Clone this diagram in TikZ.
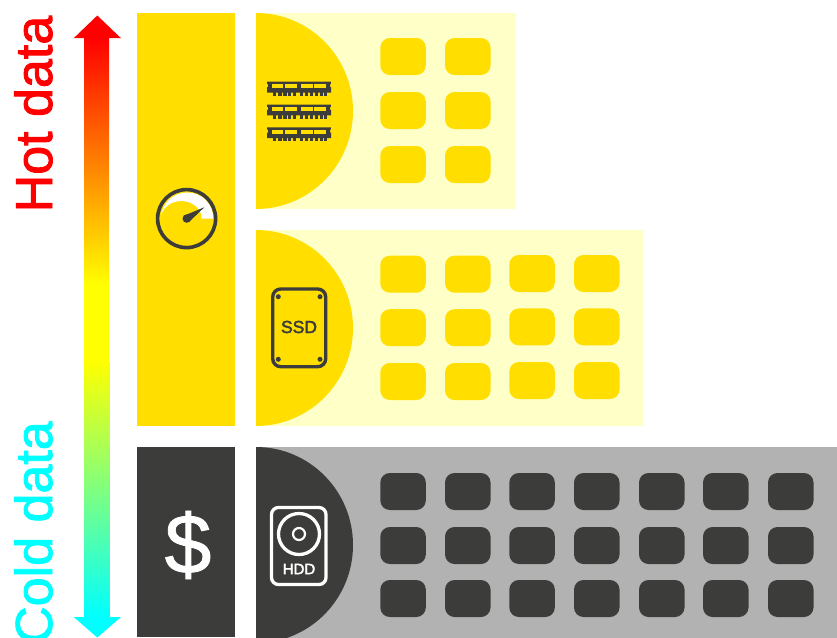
\documentclass[tikz,border=0pt]{standalone}
\usepackage{fontspec}
\setmainfont{Liberation Sans}
\newfontfamily\heavyfont{Liberation Sans}[FakeBold=2.5]
\newfontfamily\labelfont{Liberation Sans}[FakeBold=1.7]
\newfontfamily\dollarfont{Liberation Sans}[FakeBold=1]
\definecolor{yel}{HTML}{FFDE00}
\definecolor{pale}{HTML}{FFFFC8}
\definecolor{dark}{HTML}{3C3C3B}
\definecolor{midgrey}{HTML}{B2B2B2}
\definecolor{hotred}{RGB}{255,0,0}
\definecolor{puryel}{RGB}{255,255,0}
\definecolor{purcy}{RGB}{0,255,255}
\definecolor{purwh}{RGB}{255,255,255}
\tikzset{
  cell/.style={rounded corners=9.5pt},
  lbl/.style={font=\labelfont\fontsize{52}{52}\selectfont,rotate=90,inner sep=0pt,anchor=base west},
}
\newcommand{\cellrow}[3]{% y, colour, list of x
  \foreach \cx in {#3} \fill[#2,cell] (\cx,#1) rectangle ++(45.5,37);
}
\newcommand{\ramstick}[1]{%
  \begin{scope}[yshift=-#1pt]
    \fill[dark] (267.2,81.7) -- (330.8,81.7) -- (330.8,84) -- (330,84) -- (330,87) -- (331,87) -- (331,92.5) -- (267,92.5) -- (267,87) -- (268,87) -- (268,84) -- (267.2,84) -- cycle;
    \foreach \wx/\ww in {272.2/11,285.2/12,301.2/11.5,314.2/11.8} \fill[yel] (\wx,84.2) rectangle ++(\ww,4.2);
    \foreach \tx in {273,278.2,283.2,288,293,300,305,309.8,314.8,319.6,324} \fill[dark] (\tx,92) rectangle ++(3.4,3.8);
  \end{scope}}
\begin{document}
\begin{tikzpicture}[x=1pt,y=-1pt]
\useasboundingbox (0,0) rectangle (837,637);
\begin{scope}
\clip (0,0) rectangle (837,637);
% axis labels
\node[lbl,text=hotred] (hot) at (52,212.5) {Hot data};
\node[lbl,text=purcy] (cold) at (52,644) {Cold data};
% gradient arrow
\shade[top color=hotred,bottom color=puryel] (84,38) rectangle (109,285);
\fill[puryel] (84,284.5) rectangle (109,362);
\shade[top color=puryel,bottom color=purcy] (84,361.5) rectangle (109.5,617.5);
\fill[hotred] (97.3,15.5) -- (121,38.2) -- (73.7,38.2) -- cycle;
\fill[purcy] (73.7,617) -- (121,617) -- (97.3,637.5) -- cycle;
% left bars
\fill[yel] (137,13) rectangle (235,426);
\fill[dark] (137,447) rectangle (235,637);
% panels
\fill[pale] (256,13) rectangle (516,209);
\fill[pale] (256,230) rectangle (643,426);
\fill[midgrey] (256,447) rectangle (837,643);
\fill[yel] (256,13) arc[start angle=90,end angle=-90,x radius=97,y radius=-98];
\fill[yel] (256,230) arc[start angle=90,end angle=-90,x radius=97,y radius=-98];
\fill[dark] (256,447) arc[start angle=90,end angle=-90,x radius=97,y radius=-98];
% cells
\foreach \ry in {38,92,146} {\cellrow{\ry}{yel}{380.3,445}}
\foreach \ry in {255.7,309.2,363} {\cellrow{\ry}{yel}{380.3,445}}
\foreach \ry in {255,308.4,362} {\cellrow{\ry}{yel}{509.3,574}}
\foreach \ry in {473,527,580} {\cellrow{\ry}{dark}{380.3,445,509.3,574,639,703,768}}
% gauge
\fill[white] (161,218.5) arc[start angle=180,end angle=0,x radius=26.2,y radius=-26] -- (201.7,218.5) arc[start angle=0,end angle=180,x radius=20.35,y radius=-17.5] -- cycle;
\draw[dark,line width=3.6pt] (186.6,218.6) circle[radius=29];
\fill[dark] (204.3,207.3) -- (188.8,222.2) -- (183.6,215.8) -- cycle;
\fill[dark] (186.7,218.6) circle[radius=4.2];
% RAM
\ramstick{0}\ramstick{22.8}\ramstick{45.6}
% SSD
\draw[dark,line width=3.4pt,rounded corners=8pt] (272.7,289) rectangle (325.7,366.7);
\foreach \sx/\sy in {278.3/296.7,320/296.7,278.3/359.3,320/359.3} \fill[dark] (\sx,\sy) circle[radius=2.5];
\node[inner sep=0pt,text=dark,font=\heavyfont\fontsize{17.5}{17.5}\selectfont] (ssd) at (299,327) {SSD};
% HDD
\draw[purwh,line width=3.3pt,rounded corners=7pt] (271.5,507.5) rectangle (326,584.5);
\draw[purwh,line width=3.3pt] (299,534) circle[radius=20.5];
\draw[purwh,line width=2.2pt] (299,534) circle[radius=6];
\node[inner sep=0pt,text=purwh,font=\heavyfont\fontsize{15}{15}\selectfont] (hdd) at (299,569) {HDD};
% dollar
\node[inner sep=0pt,text=purwh,font=\dollarfont\fontsize{84}{84}\selectfont] (dollar) at (188,545) {\$};
\end{scope}
\end{tikzpicture}
\end{document}
